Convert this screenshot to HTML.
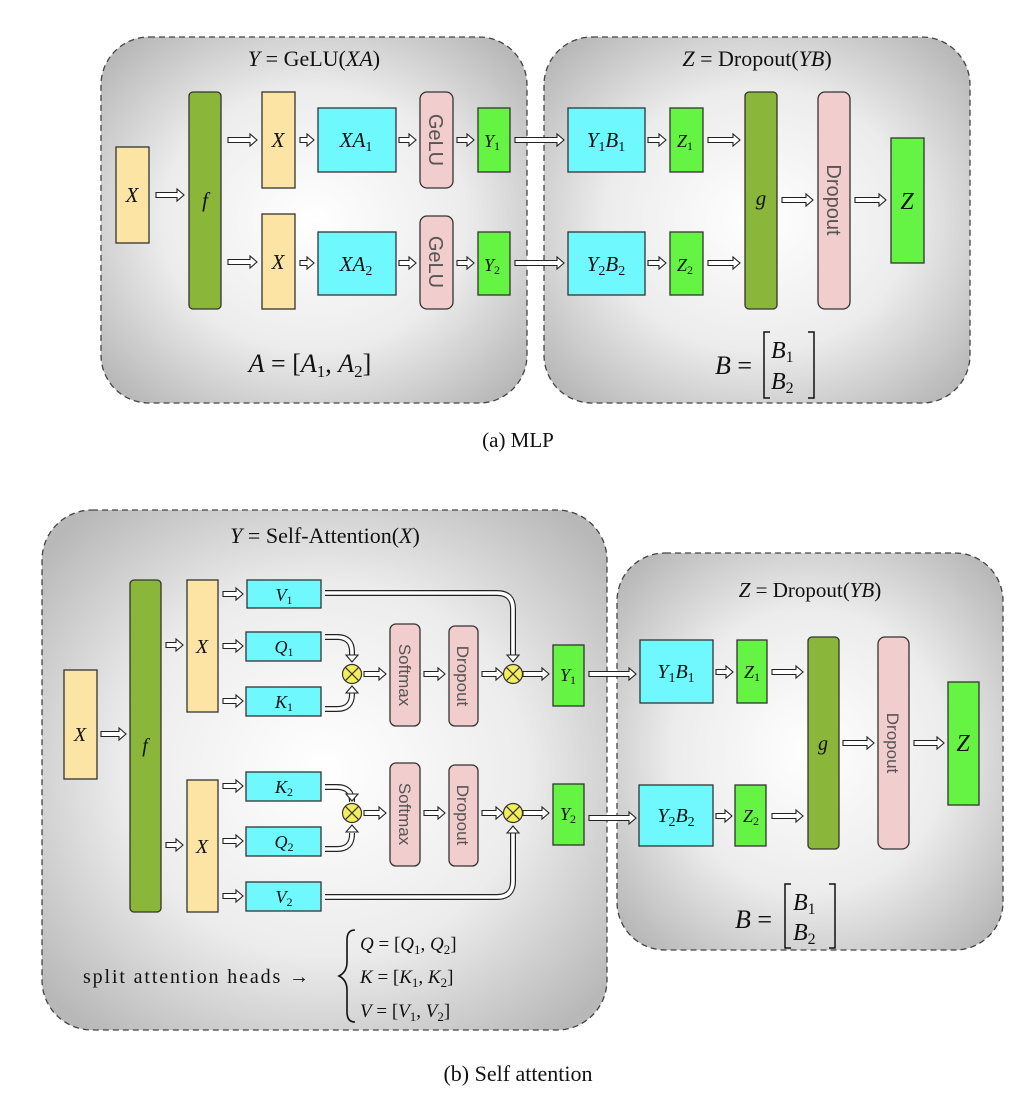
<!DOCTYPE html>
<html><head><meta charset="utf-8"><style>
html,body{margin:0;padding:0;background:#fff;}
svg{display:block}
text{font-family:"Liberation Serif",serif;fill:#111}
.i{font-style:italic}
text.s{font-family:"Liberation Sans",sans-serif;fill:#555}
</style></head><body>
<svg id="s" width="1036" height="1096" viewBox="0 0 1036 1096" xmlns="http://www.w3.org/2000/svg">
<defs>
<radialGradient id="g" cx="50%" cy="50%" r="65%">
<stop offset="0" stop-color="#ffffff"/><stop offset="0.55" stop-color="#ececec"/><stop offset="1" stop-color="#b8b8b8"/>
</radialGradient>
</defs>
<g stroke="#444" stroke-width="1.3" stroke-dasharray="6,4" fill="url(#g)">
<rect x="101" y="37" width="426" height="366" rx="48"/>
<rect x="544" y="37" width="426" height="366" rx="48"/>
<rect x="42" y="510" width="565" height="520" rx="50"/>
<rect x="617" y="553" width="386" height="397" rx="48"/>
</g>
<g id="arr"></g>
<g stroke="#333" stroke-width="1.3">
<rect x="116" y="147" width="33" height="96" fill="#FCE4A4"/>
<rect x="189" y="92" width="32" height="217" rx="4" fill="#8AB63A"/>
<rect x="262" y="92" width="33" height="96" fill="#FCE4A4"/>
<rect x="262" y="214" width="33" height="95" fill="#FCE4A4"/>
<rect x="318" y="108" width="78" height="64" fill="#70F8FF"/>
<rect x="318" y="232" width="78" height="63" fill="#70F8FF"/>
<rect x="420" y="92" width="33" height="96" rx="7" fill="#F2CDCD"/>
<rect x="420" y="216" width="33" height="93" rx="7" fill="#F2CDCD"/>
<rect x="478" y="108" width="32" height="64" fill="#66F444"/>
<rect x="478" y="232" width="32" height="63" fill="#66F444"/>
<rect x="568" y="108" width="77" height="64" fill="#70F8FF"/>
<rect x="568" y="232" width="77" height="63" fill="#70F8FF"/>
<rect x="670" y="108" width="33" height="64" fill="#66F444"/>
<rect x="670" y="232" width="33" height="63" fill="#66F444"/>
<rect x="745" y="92" width="32" height="217" rx="4" fill="#8AB63A"/>
<rect x="818" y="92" width="32" height="217" rx="7" fill="#F2CDCD"/>
<rect x="891" y="138" width="33" height="125" fill="#66F444"/>
<rect x="64" y="670" width="33" height="109" fill="#FCE4A4"/>
<rect x="130" y="580" width="31" height="332" rx="4" fill="#8AB63A"/>
<rect x="187" y="580" width="31" height="132" fill="#FCE4A4"/>
<rect x="187" y="780" width="31" height="132" fill="#FCE4A4"/>
<rect x="247" y="580" width="74" height="28" fill="#70F8FF"/>
<rect x="246" y="632" width="75" height="29" fill="#70F8FF"/>
<rect x="246" y="687" width="75" height="29" fill="#70F8FF"/>
<rect x="246" y="772" width="75" height="29" fill="#70F8FF"/>
<rect x="246" y="827" width="75" height="29" fill="#70F8FF"/>
<rect x="246" y="882" width="75" height="29" fill="#70F8FF"/>
<rect x="390" y="624" width="30" height="102" rx="6" fill="#F2CDCD"/>
<rect x="449" y="626" width="29" height="100" rx="6" fill="#F2CDCD"/>
<rect x="390" y="763" width="30" height="103" rx="6" fill="#F2CDCD"/>
<rect x="449" y="765" width="29" height="101" rx="6" fill="#F2CDCD"/>
<rect x="553" y="645" width="31" height="61" fill="#66F444"/>
<rect x="553" y="784" width="31" height="61" fill="#66F444"/>
<rect x="640" y="640" width="73" height="63" fill="#70F8FF"/>
<rect x="639" y="785" width="74" height="61" fill="#70F8FF"/>
<rect x="737" y="640" width="30" height="63" fill="#66F444"/>
<rect x="735" y="785" width="31" height="61" fill="#66F444"/>
<rect x="808" y="637" width="31" height="212" rx="4" fill="#8AB63A"/>
<rect x="878" y="637" width="31" height="212" rx="7" fill="#F2CDCD"/>
<rect x="948" y="682" width="31" height="123" fill="#66F444"/>
</g>
<g id="ot"></g>
<text x="314" y="66" font-size="22" text-anchor="middle"><tspan class="i">Y</tspan> = GeLU(<tspan class="i">XA</tspan>)</text>
<text x="757" y="66" font-size="22" text-anchor="middle"><tspan class="i">Z</tspan> = Dropout(<tspan class="i">YB</tspan>)</text>
<g font-size="21" text-anchor="middle">
<text x="132" y="202" class="i">X</text>
<text x="205" y="207" class="i">f</text>
<text x="278" y="147" class="i">X</text>
<text x="278" y="269" class="i">X</text>
<text x="356" y="147" class="i">XA<tspan font-size="14" font-style="normal" dy="4">1</tspan></text>
<text x="356" y="271" class="i">XA<tspan font-size="14" font-style="normal" dy="4">2</tspan></text>
<text x="492" y="147" class="i" font-size="18">Y<tspan font-size="12" font-style="normal" dy="3">1</tspan></text>
<text x="492" y="271" class="i" font-size="18">Y<tspan font-size="12" font-style="normal" dy="3">2</tspan></text>
<text x="606" y="147" class="i">Y<tspan font-size="14" font-style="normal" dy="4">1</tspan><tspan dy="-4">B</tspan><tspan font-size="14" font-style="normal" dy="4">1</tspan></text>
<text x="606" y="271" class="i">Y<tspan font-size="14" font-style="normal" dy="4">2</tspan><tspan dy="-4">B</tspan><tspan font-size="14" font-style="normal" dy="4">2</tspan></text>
<text x="685" y="147" class="i" font-size="18">Z<tspan font-size="12" font-style="normal" dy="3">1</tspan></text>
<text x="685" y="271" class="i" font-size="18">Z<tspan font-size="12" font-style="normal" dy="3">2</tspan></text>
<text x="761" y="205" class="i">g</text>
<text x="907" y="209" class="i" font-size="24">Z</text>
</g>
<g font-size="20" text-anchor="middle">
<text class="s" transform="translate(429,140) rotate(90)">GeLU</text>
<text class="s" transform="translate(429,262) rotate(90)">GeLU</text>
<text class="s" transform="translate(827,200) rotate(90)">Dropout</text>
</g>
<text x="310" y="372" font-size="26" text-anchor="middle"><tspan class="i">A</tspan> = [<tspan class="i">A</tspan><tspan font-size="17" dy="5">1</tspan><tspan dy="-5">, </tspan><tspan class="i">A</tspan><tspan font-size="17" dy="5">2</tspan><tspan dy="-5">]</tspan></text>
<text x="752" y="374" font-size="26" text-anchor="end"><tspan class="i">B</tspan> =</text>
<path d="M770,332 h-6 v66 h6 M808,332 h6 v66 h-6" fill="none" stroke="#111" stroke-width="1.5"/>
<text x="771" y="358" font-size="24" class="i">B<tspan font-size="16" font-style="normal" dy="4">1</tspan></text>
<text x="771" y="389" font-size="24" class="i">B<tspan font-size="16" font-style="normal" dy="4">2</tspan></text>
<text x="518" y="447" font-size="21" text-anchor="middle">(a)  MLP</text>
<text x="325" y="543" font-size="22" text-anchor="middle"><tspan class="i">Y</tspan> = Self-Attention(<tspan class="i">X</tspan>)</text>
<text x="810" y="597" font-size="21" text-anchor="middle"><tspan class="i">Z</tspan> = Dropout(<tspan class="i">YB</tspan>)</text>
<g font-size="20" text-anchor="middle">
<text x="80" y="741" class="i">X</text>
<text x="145" y="752" class="i">f</text>
<text x="202" y="653" class="i">X</text>
<text x="202" y="853" class="i">X</text>
<text x="284" y="601" class="i" font-size="18">V<tspan font-size="12" font-style="normal" dy="3">1</tspan></text>
<text x="284" y="653" class="i" font-size="18">Q<tspan font-size="12" font-style="normal" dy="3">1</tspan></text>
<text x="284" y="708" class="i" font-size="18">K<tspan font-size="12" font-style="normal" dy="3">1</tspan></text>
<text x="284" y="793" class="i" font-size="18">K<tspan font-size="12" font-style="normal" dy="3">2</tspan></text>
<text x="284" y="848" class="i" font-size="18">Q<tspan font-size="12" font-style="normal" dy="3">2</tspan></text>
<text x="284" y="903" class="i" font-size="18">V<tspan font-size="12" font-style="normal" dy="3">2</tspan></text>
<text x="568" y="681" class="i" font-size="18">Y<tspan font-size="12" font-style="normal" dy="3">1</tspan></text>
<text x="568" y="820" class="i" font-size="18">Y<tspan font-size="12" font-style="normal" dy="3">2</tspan></text>
<text x="676" y="678" class="i">Y<tspan font-size="14" font-style="normal" dy="4">1</tspan><tspan dy="-4">B</tspan><tspan font-size="14" font-style="normal" dy="4">1</tspan></text>
<text x="676" y="822" class="i">Y<tspan font-size="14" font-style="normal" dy="4">2</tspan><tspan dy="-4">B</tspan><tspan font-size="14" font-style="normal" dy="4">2</tspan></text>
<text x="752" y="678" class="i" font-size="18">Z<tspan font-size="12" font-style="normal" dy="3">1</tspan></text>
<text x="751" y="822" class="i" font-size="18">Z<tspan font-size="12" font-style="normal" dy="3">2</tspan></text>
<text x="823" y="750" class="i">g</text>
<text x="963" y="751" class="i" font-size="24">Z</text>
</g>
<g font-size="17" text-anchor="middle">
<text class="s" transform="translate(399,675) rotate(90)">Softmax</text>
<text class="s" transform="translate(457,676) rotate(90)">Dropout</text>
<text class="s" transform="translate(399,814) rotate(90)">Softmax</text>
<text class="s" transform="translate(457,815) rotate(90)">Dropout</text>
<text class="s" transform="translate(887,743) rotate(90)">Dropout</text>
</g>
<text x="83" y="983" font-size="20" textLength="226" lengthAdjust="spacing">split attention heads →</text>
<path d="M355,930 q-8,0 -8,10 v22 q0,10 -8,14 q8,4 8,14 v22 q0,10 8,10" fill="none" stroke="#111" stroke-width="1.6"/>
<g font-size="19">
<text x="360" y="950"><tspan class="i">Q</tspan> = [<tspan class="i">Q</tspan><tspan font-size="13" dy="4">1</tspan><tspan dy="-4">, </tspan><tspan class="i">Q</tspan><tspan font-size="13" dy="4">2</tspan><tspan dy="-4">]</tspan></text>
<text x="360" y="983"><tspan class="i">K</tspan> = [<tspan class="i">K</tspan><tspan font-size="13" dy="4">1</tspan><tspan dy="-4">, </tspan><tspan class="i">K</tspan><tspan font-size="13" dy="4">2</tspan><tspan dy="-4">]</tspan></text>
<text x="360" y="1017"><tspan class="i">V</tspan> = [<tspan class="i">V</tspan><tspan font-size="13" dy="4">1</tspan><tspan dy="-4">, </tspan><tspan class="i">V</tspan><tspan font-size="13" dy="4">2</tspan><tspan dy="-4">]</tspan></text>
</g>
<text x="772" y="928" font-size="26" text-anchor="end"><tspan class="i">B</tspan> =</text>
<path d="M791,884 h-6 v64 h6 M829,884 h6 v64 h-6" fill="none" stroke="#111" stroke-width="1.5"/>
<text x="793" y="910" font-size="24" class="i">B<tspan font-size="16" font-style="normal" dy="4">1</tspan></text>
<text x="793" y="940" font-size="24" class="i">B<tspan font-size="16" font-style="normal" dy="4">2</tspan></text>
<text x="518" y="1081" font-size="22" text-anchor="middle">(b) Self attention</text>
</svg>
<script>
var NS="http://www.w3.org/2000/svg",A=document.getElementById("arr"),O=document.getElementById("ot");
function el(p,t,a){var e=document.createElementNS(NS,t);for(var k in a)e.setAttribute(k,a[k]);p.appendChild(e);return e;}
function h(x1,x2,y,w){w=w||2.5;var hw=6,hl=7;el(A,"polygon",{points:[x1,y-w,x2-hl,y-w,x2-hl,y-hw,x2,y,x2-hl,y+hw,x2-hl,y+w,x1,y+w].join(" "),fill:"#fff",stroke:"#222","stroke-width":1.1});}
function curve(d,ex,ey,dir){el(A,"path",{d:d,fill:"none",stroke:"#222","stroke-width":6});el(A,"path",{d:d,fill:"none",stroke:"#fff","stroke-width":3.6});
var s=dir;el(A,"polygon",{points:[ex-6,ey-7*s,ex,ey,ex+6,ey-7*s].join(" "),fill:"#fff",stroke:"#222","stroke-width":1.1});}
h(156,184,195);h(228,257,140);h(228,257,262);h(300,314,140);h(300,314,263);h(399,416,140);h(399,416,263);h(457,474,140);h(457,474,263);
h(515,564,140);h(515,564,263);h(648,666,140);h(648,666,263);h(708,740,140);h(708,740,263);h(782,813,200);h(855,886,200);
h(101,126,734);h(166,183,645);h(166,183,845);
[594,646,701,786,841,896].forEach(function(y){h(223,243,y);});
h(364,386,674);h(364,386,813);h(424,445,674);h(424,445,813);h(482,503,674);h(482,503,813);h(523,549,674);h(523,549,813);
h(589,636,674);h(589,636,818);h(716,733,672);h(716,732,816);h(772,803,672);h(772,803,816);h(843,874,743);h(914,944,743);
curve("M325,593 H497 Q513,593 513,609 V655",513,662,1);
curve("M325,637 H337 Q352,637 352,652 V655",352,662,1);
curve("M325,709 H337 Q352,709 352,694 V693",352,686,-1);
curve("M325,787 H337 Q352,787 352,802 V794",352,801,1);
curve("M325,849 H337 Q352,849 352,834 V833",352,825,-1);
curve("M325,897 H497 Q513,897 513,881 V833",513,826,-1);
[[352,674],[513,674],[352,813],[513,813]].forEach(function(c){el(O,"circle",{cx:c[0],cy:c[1],r:9.5,fill:"#F4EE5A",stroke:"#333","stroke-width":1.2});
var d=6.7;el(O,"path",{d:"M"+(c[0]-d)+","+(c[1]-d)+"L"+(c[0]+d)+","+(c[1]+d)+"M"+(c[0]+d)+","+(c[1]-d)+"L"+(c[0]-d)+","+(c[1]+d),stroke:"#333","stroke-width":1.2});});
</script>
</body></html>
